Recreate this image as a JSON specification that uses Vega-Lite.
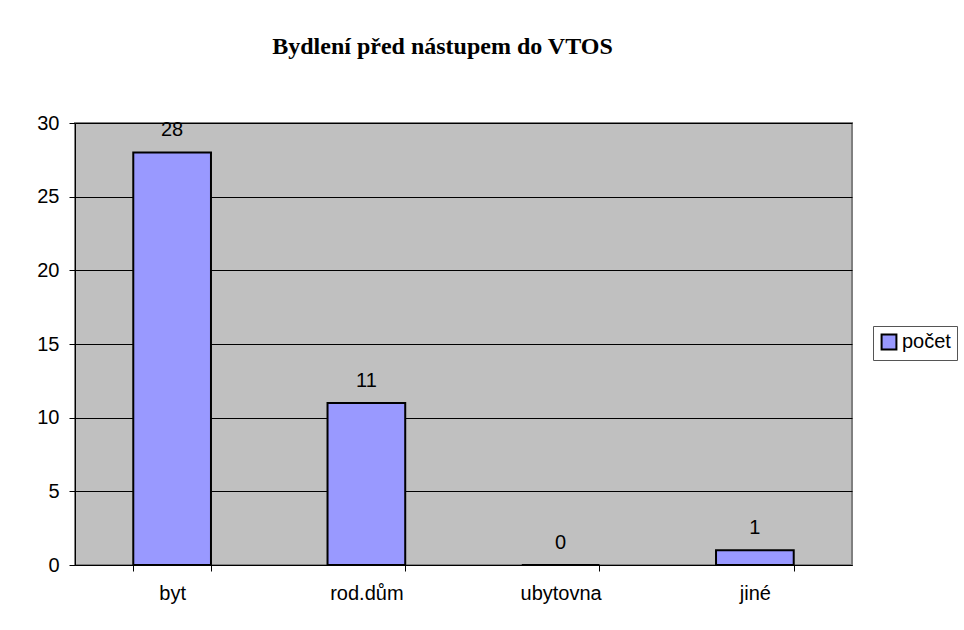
{
  "$schema": "https://vega.github.io/schema/vega-lite/v6.json",
  "width": 777,
  "height": 442,
  "autosize": {"type": "none"},
  "padding": {"left": 75, "top": 123, "right": 112, "bottom": 65},
  "background": "white",
  "title": {
    "text": "Bydlení před nástupem do VTOS",
    "font": "Liberation Serif",
    "fontSize": 24,
    "fontWeight": "bold",
    "color": "black",
    "anchor": "middle",
    "dx": -21,
    "offset": 54
  },
  "data": {
    "values": [
      {"kategorie": "byt", "pocet": 28, "serie": "počet"},
      {"kategorie": "rod.dům", "pocet": 11, "serie": "počet"},
      {"kategorie": "ubytovna", "pocet": 0, "serie": "počet"},
      {"kategorie": "jiné", "pocet": 1, "serie": "počet"}
    ]
  },
  "encoding": {
    "x": {
      "field": "kategorie",
      "type": "nominal",
      "sort": null,
      "scale": {"paddingInner": 0.6, "paddingOuter": 0.3},
      "axis": {
        "title": null,
        "labelAngle": 0,
        "labelFont": "Liberation Sans",
        "labelFontSize": 20,
        "labelColor": "black",
        "labelPadding": 12,
        "tickBand": "extent",
        "tickColor": "black",
        "tickSize": 6,
        "domainColor": "black",
        "domainWidth": 1
      }
    },
    "y": {
      "field": "pocet",
      "type": "quantitative",
      "scale": {"domain": [0, 30], "nice": false},
      "axis": {
        "title": null,
        "values": [0, 5, 10, 15, 20, 25, 30],
        "labelFont": "Liberation Sans",
        "labelFontSize": 20,
        "labelColor": "black",
        "labelPadding": 10,
        "tickColor": "black",
        "tickSize": 6,
        "domainColor": "black",
        "grid": true,
        "gridColor": "black",
        "gridWidth": 1
      }
    }
  },
  "layer": [
    {
      "mark": {"type": "bar", "stroke": "black", "strokeWidth": 2},
      "encoding": {
        "color": {
          "field": "serie",
          "type": "nominal",
          "scale": {"range": ["#9999FF"]},
          "legend": {
            "title": null,
            "orient": "none",
            "legendX": 798,
            "legendY": 203,
            "symbolType": "square",
            "symbolSize": 220,
            "symbolStrokeColor": "black",
            "symbolStrokeWidth": 2,
            "labelFont": "Liberation Sans",
            "labelFontSize": 20,
            "labelColor": "black",
            "labelOffset": 3,
            "padding": 6,
            "strokeColor": "#555555",
            "fillColor": "white"
          }
        }
      }
    },
    {
      "mark": {
        "type": "text",
        "font": "Liberation Sans",
        "fontSize": 20,
        "color": "black",
        "baseline": "alphabetic",
        "dy": -16
      },
      "encoding": {
        "text": {"field": "pocet", "type": "quantitative"}
      }
    }
  ],
  "config": {
    "view": {"fill": "#C0C0C0", "stroke": "#808080", "strokeWidth": 2}
  }
}
